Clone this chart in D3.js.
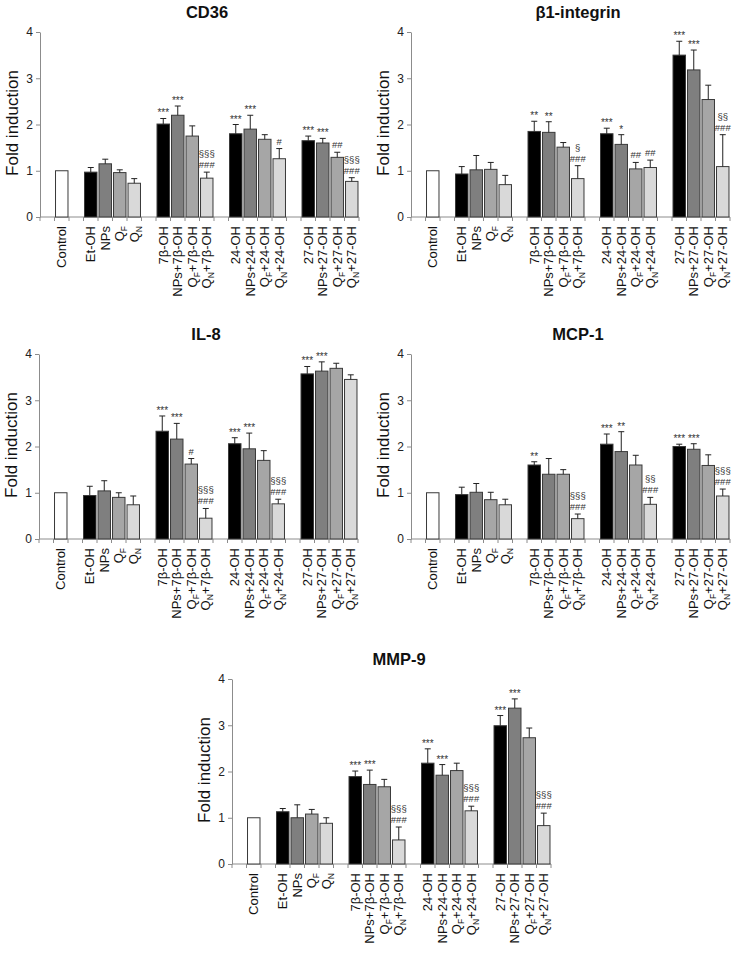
<!DOCTYPE html>
<html><head><meta charset="utf-8">
<script src="https://cdn.jsdelivr.net/npm/d3@7"></script>
<style>body{margin:0;background:#fff;}svg{display:block;font-family:Arial,"Liberation Sans",sans-serif;}</style>
</head><body>
<svg id="c" width="742" height="953"></svg>
<script>
const categories = ["Control","Et-OH","NPs","Q_F","Q_N","7β-OH","NPs+7β-OH","Q_F+7β-OH","Q_N+7β-OH","24-OH","NPs+24-OH","Q_F+24-OH","Q_N+24-OH","27-OH","NPs+27-OH","Q_F+27-OH","Q_N+27-OH"];
const yTicks = [0,1,2,3,4];

const cd36Values = [1, 0.97,1.15,0.96,0.73, 2.01,2.2,1.75,0.84, 1.8,1.9,1.68,1.26, 1.65,1.6,1.29,0.77];
const cd36Err    = [0, 0.1,0.1,0.06,0.1, 0.12,0.2,0.22,0.13, 0.2,0.3,0.1,0.22, 0.1,0.1,0.11,0.08];
const cd36Sig    = ["","","","","", "***","***","","§§§|###", "***","***","","#", "***","***","##","§§§|###"];

const b1Values = [1, 0.93,1.02,1.03,0.7, 1.85,1.83,1.51,0.83, 1.8,1.57,1.04,1.07, 3.5,3.18,2.54,1.09];
const b1Err    = [0, 0.16,0.31,0.15,0.2, 0.22,0.23,0.1,0.28, 0.12,0.21,0.14,0.16, 0.3,0.43,0.31,0.69];
const b1Sig    = ["","","","","", "**","**","","§|###", "***","*","##","##", "***","***","","§§|###"];

const il8Values = [1, 0.94,1.04,0.9,0.74, 2.33,2.16,1.62,0.45, 2.06,1.95,1.7,0.76, 3.57,3.63,3.69,3.45];
const il8Err    = [0, 0.2,0.22,0.1,0.19, 0.33,0.34,0.12,0.21, 0.13,0.34,0.21,0.1, 0.16,0.2,0.11,0.1];
const il8Sig    = ["","","","","", "***","***","#","§§§|###", "***","***","","§§§|###", "***","***","",""];

const mcp1Values = [1, 0.96,1.01,0.85,0.74, 1.6,1.4,1.4,0.44, 2.05,1.89,1.6,0.75, 2.0,1.94,1.59,0.93];
const mcp1Err    = [0, 0.16,0.19,0.16,0.12, 0.07,0.34,0.1,0.1, 0.22,0.43,0.21,0.15, 0.05,0.12,0.23,0.15];
const mcp1Sig    = ["","","","","", "**","","","§§§|###", "***","**","","§§|###", "***","***","","§§§|###"];

const mmp9Values = [1, 1.13,1.0,1.08,0.88, 1.89,1.72,1.67,0.52, 2.18,1.92,2.02,1.15, 2.99,3.37,2.73,0.83];
const mmp9Err    = [0, 0.07,0.28,0.1,0.12, 0.12,0.31,0.16,0.28, 0.31,0.23,0.16,0.1, 0.22,0.2,0.21,0.27];
const mmp9Sig    = ["","","","","", "***","***","","§§§|###", "***","***","","§§§|###", "***","***","","§§§|###"];

const panels = [
  {title:"CD36", values:cd36Values, err:cd36Err, sig:cd36Sig, ax:40, y0:217},
  {title:"β1-integrin", values:b1Values, err:b1Err, sig:b1Sig, ax:411, y0:217},
  {title:"IL-8", values:il8Values, err:il8Err, sig:il8Sig, ax:39, y0:539},
  {title:"MCP-1", values:mcp1Values, err:mcp1Err, sig:mcp1Sig, ax:411, y0:539},
  {title:"MMP-9", values:mmp9Values, err:mmp9Err, sig:mmp9Sig, ax:232, y0:864}
];

const slots = [];
slots.push("_b0");
categories.forEach((c,i)=>{
  slots.push(c);
  if (i===0 || i===4 || i===8 || i===12) slots.push("_b"+(i+1));
});
const groupFill = ["#000000","#7f7f7f","#a6a6a6","#d9d9d9"];
function fillFor(i){ return i===0 ? "#ffffff" : groupFill[(i-1)%4]; }

const svg = d3.select("#c");
const W = 319, H = 185;

function addLabel(sel, label){
  const parts = label.split(/(_[FN])/).filter(s=>s.length);
  let pendingDy = 0;
  parts.forEach(p=>{
    if (p[0]==="_"){
      sel.append("tspan").attr("font-size","8.5px").attr("dy","3").text(p[1]);
      pendingDy = -3;
    } else {
      const ts = sel.append("tspan").text(p);
      if (pendingDy) { ts.attr("dy", pendingDy); pendingDy = 0; }
    }
  });
}

panels.forEach(p=>{
  const g = svg.append("g");
  const x = d3.scaleBand().domain(slots).range([p.ax, p.ax+W]).padding(0);
  const y = d3.scaleLinear().domain([0,4]).range([p.y0, p.y0-H]);
  const bw = x.bandwidth()*0.86;

  g.append("text").attr("x", p.ax+167).attr("y", p.y0-199).attr("text-anchor","middle")
    .attr("font-weight","bold").attr("font-size","16.5px").attr("fill","#111").text(p.title);
  g.append("text").attr("transform",`translate(${p.ax-22},${p.y0-94}) rotate(-90)`)
    .attr("text-anchor","middle").attr("font-size","17px").attr("fill","#111").text("Fold induction");

  const ya = g.append("g").attr("transform",`translate(${p.ax},0)`)
    .call(d3.axisLeft(y).tickValues(yTicks).tickSize(4).tickSizeOuter(0).tickFormat(d3.format("d")));
  ya.select(".domain").attr("stroke","#8c8c8c");
  ya.selectAll(".tick line").attr("stroke","#8c8c8c");
  ya.selectAll(".tick text").attr("font-size","12px").attr("fill","#222").attr("font-family","Arial, 'Liberation Sans', sans-serif");

  g.append("line").attr("x1",p.ax).attr("x2",p.ax+W).attr("y1",p.y0).attr("y2",p.y0).attr("stroke","#8c8c8c");
  const bounds = slots.map(s=>x(s)).concat([p.ax+W]);
  g.selectAll(".xt").data(bounds).enter().append("line")
    .attr("x1",d=>d).attr("x2",d=>d).attr("y1",p.y0).attr("y2",p.y0+4).attr("stroke","#8c8c8c");

  categories.forEach((c,i)=>{
    const cx = x(c)+x.bandwidth()/2;
    const v = p.values[i], e = p.err[i];
    g.append("rect").attr("x",cx-bw/2).attr("y",y(v)).attr("width",bw).attr("height",y(0)-y(v))
      .attr("fill",fillFor(i)).attr("stroke","#3a3a3a").attr("stroke-width",1);
    if (e>0){
      g.append("line").attr("x1",cx).attr("x2",cx).attr("y1",y(v)).attr("y2",y(v+e)).attr("stroke","#222").attr("stroke-width",1);
      g.append("line").attr("x1",cx-3).attr("x2",cx+3).attr("y1",y(v+e)).attr("y2",y(v+e)).attr("stroke","#222").attr("stroke-width",1);
    }
    const sig = p.sig[i];
    if (sig){
      const lines = sig.split("|").reverse();
      let yy = y(v+e) - 4;
      lines.forEach(l=>{
        const star = l[0]==="*";
        g.append("text").attr("x",cx).attr("y", star ? yy+2 : yy).attr("text-anchor","middle")
          .attr("font-size", star ? "10px" : "9.5px").attr("fill","#333").text(l);
        yy -= 11;
      });
    }
    const t = g.append("text").attr("transform",`translate(${cx},${p.y0+9}) rotate(-90)`)
      .attr("text-anchor","end").attr("dy","0.36em").attr("font-size","13px").attr("fill","#111");
    addLabel(t, c);
  });
});
</script>
</body></html>
